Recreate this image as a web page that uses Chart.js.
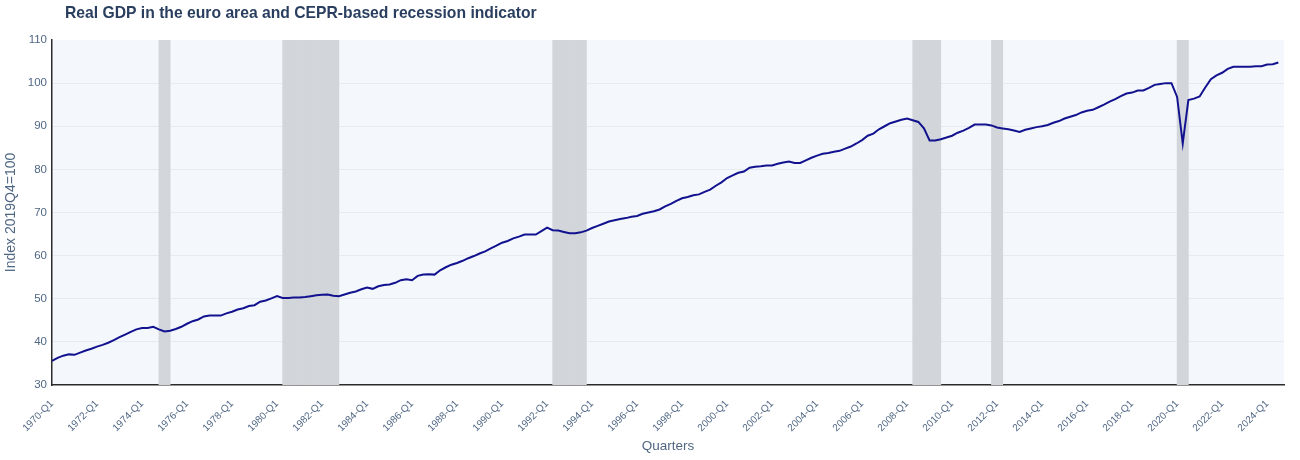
<!DOCTYPE html>
<html>
<head>
<meta charset="utf-8">
<script src="https://cdn.jsdelivr.net/npm/chart.js@4"></script>
<style>
  html, body { margin: 0; padding: 0; background: #ffffff; }
  #wrap { width: 1300px; height: 460px; position: relative; }
</style>
</head>
<body>
<div id="wrap"><canvas id="c" width="1300" height="460"></canvas></div>
<script>
// ---- Data ----
const titleText = "Real GDP in the euro area and CEPR-based recession indicator";
const xTitle = "Quarters";
const yTitle = "Index 2019Q4=100";

const startYear = 1970;
// Real GDP index (2019Q4=100), quarterly from 1970-Q1
const gdp = [
  35.6, 36.3, 36.8, 37.1,   // 1970
  37.0, 37.5, 38.0, 38.4,   // 1971
  38.9, 39.3, 39.8, 40.4,   // 1972
  41.1, 41.7, 42.3, 42.9,   // 1973
  43.2, 43.2, 43.5, 42.9,   // 1974
  42.4, 42.6, 43.0, 43.5,   // 1975
  44.2, 44.8, 45.2, 45.9,   // 1976
  46.1, 46.1, 46.1, 46.6,   // 1977
  47.0, 47.5, 47.8, 48.3,   // 1978
  48.5, 49.3, 49.6, 50.1,   // 1979
  50.6, 50.2, 50.2, 50.3,   // 1980
  50.3, 50.4, 50.6, 50.8,   // 1981
  50.9, 51.0, 50.7, 50.6,   // 1982
  51.0, 51.4, 51.7, 52.2,   // 1983
  52.6, 52.3, 52.9, 53.2,   // 1984
  53.3, 53.7, 54.3, 54.5,   // 1985
  54.3, 55.3, 55.6, 55.7,   // 1986
  55.6, 56.6, 57.3, 57.9,   // 1987
  58.3, 58.8, 59.4, 59.9,   // 1988
  60.5, 61.0, 61.7, 62.3,   // 1989
  63.0, 63.4, 64.0, 64.4,   // 1990
  64.9, 64.9, 64.9, 65.7,   // 1991
  66.5, 65.9, 65.8, 65.5,   // 1992
  65.2, 65.2, 65.4, 65.8,   // 1993
  66.4, 66.9, 67.4, 67.9,   // 1994
  68.2, 68.5, 68.7, 69.0,   // 1995
  69.2, 69.7, 70.0, 70.3,   // 1996
  70.7, 71.4, 72.0, 72.7,   // 1997
  73.3, 73.6, 74.0, 74.2,   // 1998
  74.8, 75.3, 76.2, 77.0,   // 1999
  78.0, 78.6, 79.2, 79.5,   // 2000
  80.4, 80.6, 80.7, 80.9,   // 2001
  80.9, 81.3, 81.6, 81.8,   // 2002
  81.5, 81.5, 82.1, 82.7,   // 2003
  83.2, 83.6, 83.8, 84.1,   // 2004
  84.3, 84.8, 85.3, 86.0,   // 2005
  86.8, 87.8, 88.3, 89.3,   // 2006
  90.0, 90.7, 91.1, 91.5,   // 2007
  91.8, 91.4, 91.0, 89.5,   // 2008
  86.7, 86.7, 87.0, 87.4,   // 2009
  87.8, 88.5, 89.0, 89.6,   // 2010
  90.4, 90.4, 90.4, 90.2,   // 2011
  89.7, 89.5, 89.3, 89.0,   // 2012
  88.7, 89.2, 89.5, 89.8,   // 2013
  90.0, 90.3, 90.8, 91.2,   // 2014
  91.8, 92.2, 92.6, 93.2,   // 2015
  93.6, 93.8, 94.4, 95.0,   // 2016
  95.7, 96.3, 97.0, 97.6,   // 2017
  97.8, 98.3, 98.3, 98.9,   // 2018
  99.6, 99.8, 100.0, 100.0, // 2019
  96.8, 86.0, 96.1, 96.4,   // 2020
  96.9, 99.0, 100.9, 101.8, // 2021
  102.4, 103.3, 103.8, 103.8, // 2022
  103.8, 103.8, 103.9, 103.9, // 2023
  104.3, 104.4, 104.8         // 2024
];

// Quarter categories matching the series
const quarters = gdp.map((_, i) => (startYear + Math.floor(i / 4)) + "-Q" + (i % 4 + 1));

// Quarters flagged by the CEPR-based recession indicator
const recessionQuarters = [
  "1974-Q4", "1975-Q1",
  "1980-Q2", "1980-Q3", "1980-Q4", "1981-Q1", "1981-Q2", "1981-Q3", "1981-Q4", "1982-Q1", "1982-Q2", "1982-Q3",
  "1992-Q2", "1992-Q3", "1992-Q4", "1993-Q1", "1993-Q2", "1993-Q3",
  "2008-Q2", "2008-Q3", "2008-Q4", "2009-Q1", "2009-Q2",
  "2011-Q4", "2012-Q1",
  "2020-Q1", "2020-Q2"
];

const xTickLabels = [
  "1970-Q1","1972-Q1","1974-Q1","1976-Q1","1978-Q1","1980-Q1","1982-Q1","1984-Q1",
  "1986-Q1","1988-Q1","1990-Q1","1992-Q1","1994-Q1","1996-Q1","1998-Q1","2000-Q1",
  "2002-Q1","2004-Q1","2006-Q1","2008-Q1","2010-Q1","2012-Q1","2014-Q1","2016-Q1",
  "2018-Q1","2020-Q1","2022-Q1","2024-Q1"
];
const yTicks = [30, 40, 50, 60, 70, 80, 90, 100, 110];

// ---- Chart ----
const yMin = yTicks[0], yMax = yTicks[yTicks.length - 1];
const lineData = gdp.map((v, i) => ({ x: i, y: v }));
// each recession quarter spans [i, i+1] on the axis
const recData = recessionQuarters.map(q => ({ x: quarters.indexOf(q) + 0.5, y: [yMin, yMax] }));

const FONT = "'Liberation Sans', Arial, sans-serif";
Chart.defaults.font.family = FONT;
Chart.defaults.color = '#506784';

const bgPlugin = {
  id: 'bg',
  beforeDraw(chart) {
    const { ctx, chartArea: a } = chart;
    ctx.save();
    ctx.fillStyle = '#ffffff';
    ctx.fillRect(0, 0, chart.width, chart.height);
    ctx.fillStyle = '#f4f8fc';
    ctx.fillRect(a.left, a.top, a.right - a.left, a.bottom - a.top);
    ctx.restore();
  },
  afterDraw(chart) {
    const { ctx } = chart;
    ctx.save();
    ctx.font = "bold 15.7px " + FONT;
    ctx.fillStyle = '#2a3f5f';
    ctx.textBaseline = 'middle';
    ctx.textAlign = 'left';
    ctx.fillText(titleText, 65, 14);
    ctx.restore();
  }
};

new Chart(document.getElementById('c'), {
  data: {
    datasets: [
      {
        type: 'line',
        label: 'Real GDP',
        data: lineData,
        borderColor: '#12128f',
        borderWidth: 2,
        pointRadius: 0,
        tension: 0,
        fill: false,
        order: 0
      },
      {
        type: 'bar',
        label: 'Recession',
        data: recData,
        backgroundColor: '#d2d6da',
        borderWidth: 0,
        barPercentage: 1,
        categoryPercentage: 1,
        order: 1
      }
    ]
  },
  options: {
    responsive: false,
    animation: false,
    layout: { padding: { top: 40, right: 16, left: 0, bottom: 0 } },
    plugins: { legend: { display: false }, tooltip: { enabled: false }, title: { display: false } },
    scales: {
      x: {
        type: 'linear',
        min: 0,
        max: quarters.length,
        offset: false,
        grid: { display: false, offset: false },
        border: { display: true, color: '#2b2b2b', width: 1.5 },
        afterBuildTicks: s => { s.ticks = xTickLabels.map(l => ({ value: quarters.indexOf(l) })); },
        afterFit: s => { s.height = 75; },
        ticks: {
          autoSkip: false,
          minRotation: 45,
          maxRotation: 45,
          padding: 5,
          color: '#506784',
          font: { size: 10 },
          callback: v => quarters[v]
        },
        title: {
          display: true,
          text: xTitle,
          color: '#506784',
          font: { size: 13.5 },
          padding: { top: 0, bottom: 6 }
        }
      },
      y: {
        type: 'linear',
        min: yMin,
        max: yMax,
        grid: {
          color: ctx => (ctx.tick && (ctx.tick.value === yMax || ctx.tick.value === yMin)) ? 'rgba(0,0,0,0)' : '#e6ebf1',
          lineWidth: 1,
          drawTicks: false
        },
        border: { display: true, color: '#2b2b2b', width: 1.5 },
        afterBuildTicks: s => { s.ticks = yTicks.map(v => ({ value: v })); },
        afterFit: s => { s.width = 52; },
        ticks: {
          padding: 5,
          color: '#506784',
          font: { size: 11.5 }
        },
        title: {
          display: true,
          text: yTitle,
          color: '#506784',
          font: { size: 14 },
          padding: { top: 3, bottom: 0 }
        }
      }
    }
  },
  plugins: [bgPlugin]
});
</script>
</body>
</html>
